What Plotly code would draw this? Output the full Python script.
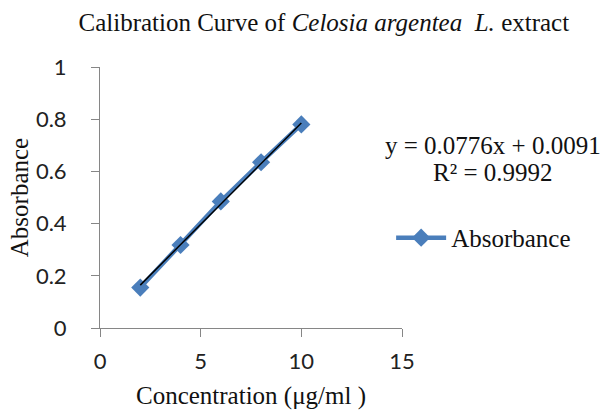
import plotly.graph_objects as go

concentration = [2, 4, 6, 8, 10]
absorbance = [0.155, 0.318, 0.485, 0.635, 0.78]
slope = 0.0776
intercept = 0.0091
x_ticks = [0, 5, 10, 15]
y_ticks = [0, 0.2, 0.4, 0.6, 0.8, 1]
y_tick_labels = ["0", "0.2", "0.4", "0.6", "0.8", "1"]

blue = "#4A7EBB"
axis_gray = "#868686"
serif = "Liberation Serif"
sans = "Lato"

trend_x = [min(concentration), max(concentration)]
trend_y = [slope * v + intercept for v in trend_x]

fig = go.Figure()
fig.add_trace(go.Scatter(
    x=concentration, y=absorbance, mode="lines+markers", name="Absorbance",
    line=dict(color=blue, width=4.5),
    marker=dict(symbol="diamond", size=14, color=blue),
))
fig.add_trace(go.Scatter(
    x=trend_x, y=trend_y, mode="lines", showlegend=False,
    line=dict(color="black", width=1.5),
))

axis_common = dict(
    showgrid=False, zeroline=False, showline=True, linecolor=axis_gray, linewidth=1,
    ticks="outside", tickcolor=axis_gray, ticklen=8, tickwidth=1, automargin=False,
    tickfont=dict(family=sans, size=22, color="#222"),
)
fig.update_xaxes(range=[0, 15], tickvals=x_ticks, ticktext=[str(t) for t in x_ticks],
                 ticklabelstandoff=6,
                 title=dict(text="Concentration (μg/ml )", font=dict(family=serif, size=25, color="#111"), standoff=18),
                 **axis_common)
fig.update_yaxes(range=[0, 1], tickvals=y_ticks, ticktext=y_tick_labels, ticklabelstandoff=20,
                 title=dict(text="Absorbance", font=dict(family=serif, size=25, color="#111"), standoff=0),
                 **axis_common)

fig.add_annotation(xref="paper", yref="paper", x=1.300, y=0.701, xanchor="center", yanchor="middle",
                   showarrow=False, text="y = 0.0776x + 0.0091", font=dict(family=serif, size=25, color="#111"))
fig.add_annotation(xref="paper", yref="paper", x=1.300, y=0.594, xanchor="center", yanchor="middle",
                   showarrow=False, text="R² = 0.9992", font=dict(family=serif, size=25, color="#111"))

fig.update_layout(
    width=603, height=410,
    margin=dict(l=100, r=201, t=67, b=82, autoexpand=False),
    paper_bgcolor="white", plot_bgcolor="white",
    title=dict(text="Calibration Curve of <i>Celosia argentea  L.</i> extract",
               x=0.537, xanchor="center", y=0.946, yanchor="middle",
               font=dict(family=serif, size=25, color="#111")),
    legend=dict(x=0.964, y=0.345, xanchor="left", yanchor="middle", itemwidth=50,
                font=dict(family=serif, size=25, color="#111"), bgcolor="rgba(0,0,0,0)"),
)

fig.write_html("out.html", config={"displayModeBar": False},
               post_script="document.body.style.margin='0';")
